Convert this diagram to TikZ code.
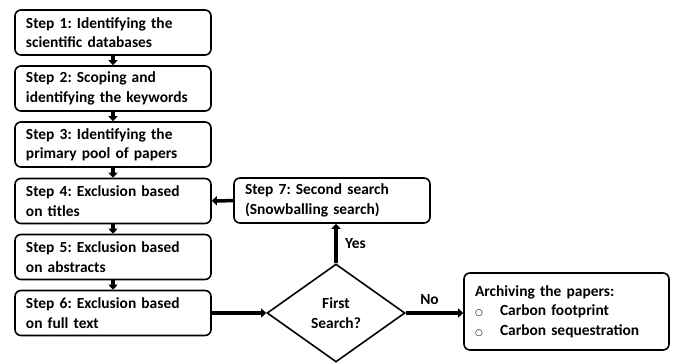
\documentclass[tikz,border=0pt]{standalone}
\usepackage{fontspec}
\setmainfont{Carlito}
\newfontfamily\symfont{DejaVu Sans}
\usetikzlibrary{arrows.meta,shapes.geometric}
\frenchspacing

\begin{document}
\begin{tikzpicture}[x=1bp,y=-1bp,>={Triangle[length=5bp,width=9bp]},
  every node/.style={font=\fontsize{15.5}{19.5}\selectfont\bfseries},
  stepbox/.style={draw,line width=1.6bp,rounded corners=6bp,rectangle,inner xsep=11bp,inner ysep=0pt,
    minimum height=45bp,text width=174bp,align=left},
  flow/.style={->,line width=3.5bp}]
\useasboundingbox (0,0) rectangle (676,363);
\node[stepbox] (S1) at (113,32.5) {Step 1: Identifying the\\scientific databases};
\node[stepbox] (S2) at (113,88.5) {Step 2: Scoping and\\identifying the keywords};
\node[stepbox] (S3) at (113,144.5) {Step 3: Identifying the\\primary pool of papers};
\node[stepbox] (S4) at (113,201) {Step 4: Exclusion based\\on titles};
\node[stepbox] (S5) at (113,257) {Step 5: Exclusion based\\on abstracts};
\node[stepbox] (S6) at (113,313) {Step 6: Exclusion based\\on full text};
\node[stepbox] (S7) at (332,200.5) {Step 7: Second search\\(Snowballing search)};
\node[draw,line width=1.6bp,diamond,inner sep=0pt,minimum width=138bp,minimum height=98bp,align=center] (D) at (336,313) {First\\Search?};
\node[stepbox,text width=183bp,minimum height=77bp] (A) at (566.5,311.5) {Archiving the papers:\\{\symfont\fontsize{9}{19.5}\selectfont\mdseries\makebox[25bp][l]{○}}Carbon footprint\\{\symfont\fontsize{9}{19.5}\selectfont\mdseries\makebox[25bp][l]{○}}Carbon sequestration};
\draw[flow] (S1) -- (S2);
\draw[flow] (S2) -- (S3);
\draw[flow] (S3) -- (S4);
\draw[flow] (S4) -- (S5);
\draw[flow] (S5) -- (S6);
\draw[flow] (S6) -- (D);
\draw[flow] (D.north) -- node[right,xshift=4bp]{Yes} (D.north |- S7.south);
\draw[flow] (D) -- node[above,yshift=3bp,xshift=-5bp]{No} (A.west |- D);
\draw[flow] (S7) -- (S4);
\end{tikzpicture}
\end{document}
